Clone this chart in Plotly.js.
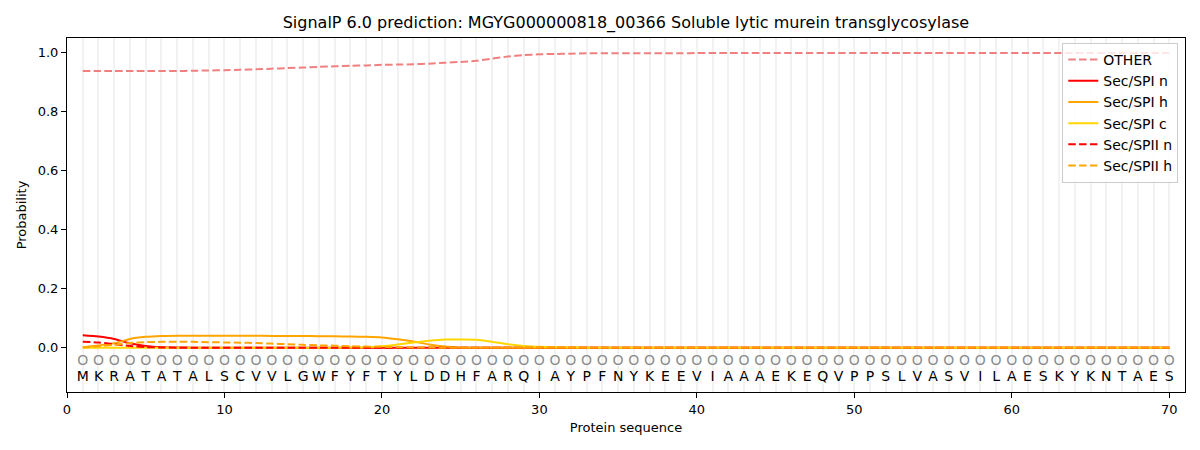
<!DOCTYPE html>
<html>
<head>
<meta charset="utf-8">
<script src="https://cdn.plot.ly/plotly-3.0.1.min.js"></script>
<style>
  body { margin: 0; background: #fff; }
  #chart { width: 1200px; height: 450px; }
</style>
</head>
<body>
<div id="chart"></div>
<script>
var FONT = "DejaVu Sans, sans-serif"
var DASH = "7.5px,3.3px"

var sequence = "MKRATATALSCVVLGWFYFTYLDDHFARQIAYPFNYKEEVIAAAEKEQVPPSLVASVILAESKYKNTAES".split("")
var positions = sequence.map(function (_, i) { return i + 1 })
var labelMarks = sequence.map(function () { return "O" })

var other = [0.938, 0.938, 0.938, 0.938, 0.938, 0.938, 0.938, 0.939, 0.940, 0.941,
             0.942, 0.944, 0.946, 0.948, 0.950, 0.952, 0.954, 0.956, 0.957, 0.959,
             0.960, 0.961, 0.963, 0.966, 0.969, 0.973, 0.980, 0.987, 0.992, 0.995,
             0.996, 0.997, 0.998, 0.998, 0.998, 0.998, 0.998, 0.998, 0.998, 0.999,
             0.999, 0.999, 0.999, 0.999, 0.999, 0.999, 0.999, 0.999, 0.999, 0.999,
             0.999, 0.999, 0.999, 0.999, 0.999, 0.999, 0.999, 0.999, 0.999, 0.999,
             0.999, 0.999, 0.999, 0.999, 0.999, 0.999, 0.999, 0.999, 0.999, 0.999]
var spiN = [0.042, 0.038, 0.030, 0.015, 0.006, 0.002, 0.001, 0.000, 0.000, 0.000]
var spiH = [0.002, 0.008, 0.015, 0.030, 0.037, 0.040, 0.041, 0.041, 0.041, 0.041,
            0.041, 0.041, 0.040, 0.040, 0.040, 0.039, 0.039, 0.038, 0.037, 0.035,
            0.029, 0.021, 0.011, 0.004, 0.001, 0.000]
var spiC = [0.000, 0.000, 0.000, 0.000, 0.000, 0.000, 0.000, 0.000, 0.000, 0.000,
            0.000, 0.000, 0.000, 0.000, 0.000, 0.000, 0.000, 0.001, 0.002, 0.005,
            0.011, 0.018, 0.024, 0.028, 0.028, 0.027, 0.020, 0.012, 0.006, 0.003,
            0.002, 0.001]
var spiiN = [0.020, 0.018, 0.012, 0.006, 0.002, 0.001, 0.000, 0.000, 0.000, 0.000]
var spiiH = [0.001, 0.005, 0.010, 0.016, 0.019, 0.020, 0.020, 0.020, 0.019, 0.018,
             0.017, 0.016, 0.014, 0.012, 0.010, 0.008, 0.007, 0.005, 0.004, 0.003,
             0.002, 0.001, 0.001, 0.000]

function pad(arr) {
    var out = arr.slice()
    while (out.length < positions.length) out.push(0)
    return out
}

function lineTrace(name, values, color, dash) {
    return {
        type: "scatter",
        mode: "lines",
        name: name,
        x: positions,
        y: pad(values),
        line: { color: color, width: 2, dash: dash, shape: "spline", smoothing: 0.6 },
        hoverinfo: "skip",
    }
}

var traces = [
    lineTrace("OTHER", other, "#f08080", DASH),
    lineTrace("Sec/SPI n", spiN, "#ff0000", "solid"),
    lineTrace("Sec/SPI h", spiH, "#ffa500", "solid"),
    lineTrace("Sec/SPI c", spiC, "#ffd700", "solid"),
    lineTrace("Sec/SPII n", spiiN, "#ff0000", DASH),
    lineTrace("Sec/SPII h", spiiH, "#ffa500", DASH),
    {
        type: "scatter",
        mode: "text",
        x: positions,
        y: positions.map(function () { return -0.047 }),
        text: labelMarks,
        textfont: { family: FONT, size: 14, color: "#8c8c8c" },
        showlegend: false,
        hoverinfo: "skip",
    },
    {
        type: "scatter",
        mode: "text",
        x: positions,
        y: positions.map(function () { return -0.1 }),
        text: sequence,
        textfont: { family: FONT, size: 14, color: "#000000" },
        showlegend: false,
        hoverinfo: "skip",
    },
]

Plotly.newPlot(
    document.getElementById("chart"),
    traces,
    {
        width: 1200,
        height: 450,
        margin: { t: 38, l: 67, r: 15, b: 58 },
        paper_bgcolor: "#ffffff",
        plot_bgcolor: "#ffffff",
        font: { family: FONT, size: 13, color: "#000000" },
        title: {
            text: "SignalP 6.0 prediction: MGYG000000818_00366 Soluble lytic murein transglycosylase",
            font: { family: FONT, size: 16 },
            x: 0.5216,
            xanchor: "center",
            y: 0.95,
            yanchor: "middle",
        },
        xaxis: {
            range: [0, 71],
            tickvals: [0, 10, 20, 30, 40, 50, 60, 70],
            ticks: "outside",
            ticklen: 5,
            tickcolor: "#000",
            showline: true,
            mirror: true,
            linecolor: "#000",
            linewidth: 1,
            zeroline: false,
            showgrid: true,
            gridcolor: "#f2f2f2",
            gridwidth: 2,
            minor: { dtick: 1, tick0: 0, showgrid: true, gridcolor: "#f2f2f2", gridwidth: 2, ticks: "" },
            title: { text: "Protein sequence", font: { family: FONT, size: 13 }, standoff: 7 },
        },
        yaxis: {
            range: [-0.15, 1.05],
            tickvals: [0, 0.2, 0.4, 0.6, 0.8, 1.0],
            ticktext: ["0.0", "0.2", "0.4", "0.6", "0.8", "1.0"],
            ticks: "outside",
            ticklen: 5,
            tickcolor: "#000",
            showline: true,
            mirror: true,
            linecolor: "#000",
            linewidth: 1,
            zeroline: false,
            showgrid: false,
            title: { text: "Probability", font: { family: FONT, size: 13 }, standoff: 8 },
        },
        legend: {
            x: 0.994,
            y: 0.986,
            xanchor: "right",
            yanchor: "top",
            bgcolor: "rgba(255,255,255,0.8)",
            bordercolor: "#cccccc",
            borderwidth: 1,
            font: { family: FONT, size: 14 },
            tracegroupgap: 0,
        },
    },
    { displayModeBar: false, staticPlot: true }
)
</script>
</body>
</html>
